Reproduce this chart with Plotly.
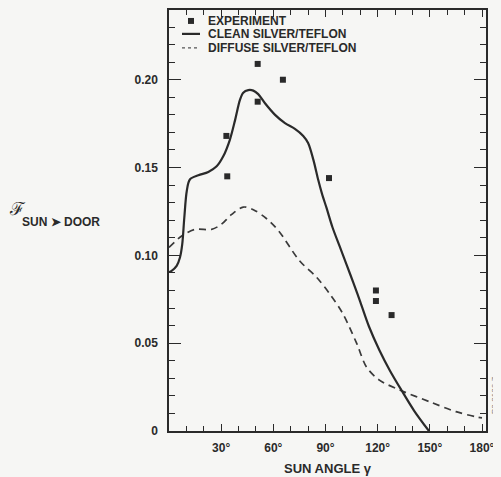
import plotly.graph_objects as go

# Experimental data
angle_exp = [33, 33.5, 51, 51, 65.5, 92, 119, 119, 128]
f_exp = [0.168, 0.145, 0.209, 0.1875, 0.200, 0.144, 0.080, 0.074, 0.066]

# Clean silver/teflon (solid)
angle_clean = [0, 1.5, 4.4, 6.3, 7.6, 8.8, 10.2, 12, 16.9, 22.6, 27.4, 31.2, 35, 38, 40.8, 42.7, 45.6, 48.5,
               51.3, 55.2, 61, 66.7, 72.4, 77.2, 80, 83, 85.8, 88, 90.6, 94, 98, 102, 106, 110, 115, 121,
               127, 133.7, 141, 149.5]
f_clean = [0.0905, 0.0912, 0.094, 0.0988, 0.1063, 0.1214, 0.1365, 0.1432, 0.1456, 0.1475, 0.1507, 0.1564,
           0.1658, 0.177, 0.1885, 0.1926, 0.1941, 0.1938, 0.1918, 0.1866, 0.180, 0.1753, 0.172, 0.168, 0.164,
           0.1545, 0.143, 0.135, 0.127, 0.116, 0.1055, 0.095, 0.0845, 0.0735, 0.0595, 0.046,
           0.0345, 0.0232, 0.0115, 0.0]

# Diffuse silver/teflon (dashed)
angle_diff = [0, 7.3, 15, 24.5, 30, 36, 42.7, 48.5, 56, 63, 75, 85, 92.5, 100, 108, 113.6, 121, 133, 150,
              165, 177, 180]
f_diff = [0.1045, 0.111, 0.1148, 0.1148, 0.1176, 0.1233, 0.1275, 0.126, 0.121, 0.114, 0.097, 0.0874, 0.078,
          0.0667, 0.0497, 0.0364, 0.029, 0.0232, 0.0166, 0.011, 0.008, 0.0075]

x_tickvals = [30, 60, 90, 120, 150, 180]
x_ticktext = ["30°", "60°", "90°", "120°", "150°", "180°"]
y_tickvals = [0, 0.05, 0.10, 0.15, 0.20]
y_ticktext = ["0", "0.05", "0.10", "0.15", "0.20"]

legend_labels = ["EXPERIMENT", "CLEAN SILVER/TEFLON", "DIFFUSE SILVER/TEFLON"]

INK = "#2a2a2a"
BG = "#f6f6f4"
FONT = "Liberation Sans"

fig = go.Figure()
fig.add_trace(go.Scatter(x=angle_diff, y=f_diff, mode="lines",
                         line=dict(color="#3a3a3a", width=1.7, dash="7px,5px", shape="spline", smoothing=0.9),
                         showlegend=False))
fig.add_trace(go.Scatter(x=angle_clean, y=f_clean, mode="lines",
                         line=dict(color=INK, width=2.2, shape="spline", smoothing=0.9),
                         showlegend=False))
fig.add_trace(go.Scatter(x=angle_exp, y=f_exp, mode="markers",
                         marker=dict(symbol="square", size=6, color=INK),
                         showlegend=False))

axis_common = dict(showline=True, linecolor=INK, linewidth=1.5, mirror="ticks", ticks="inside",
                   tickcolor=INK, tickwidth=1.3, showgrid=False, zeroline=False,
                   tickfont=dict(family=FONT, size=12, color=INK, weight="bold"))

fig.update_xaxes(range=[0, 182.3], tickmode="array", tickvals=x_tickvals, ticktext=x_ticktext,
                 ticklen=7, minor=dict(dtick=10, tick0=0, ticks="inside", ticklen=5, tickcolor=INK, tickwidth=1.2),
                 title=dict(text="SUN ANGLE γ", font=dict(family=FONT, size=13, color=INK, weight="bold"),
                            standoff=10),
                 ticklabelstandoff=5, **axis_common)
fig.update_yaxes(range=[0, 0.2397], tickmode="array", tickvals=y_tickvals, ticktext=y_ticktext,
                 ticklen=12, minor=dict(dtick=0.01, tick0=0, ticks="inside", ticklen=6, tickcolor=INK, tickwidth=1.2),
                 ticklabelstandoff=7, **axis_common)

# Page offset (browser body margin of 8px)
OFF = 8
# Plot area in page pixels
L, T, R, B = 169, 8, 486, 431
W, H = R - L, B - T
def px(x):
    return (x - L) / W
def py(y):
    return (B - y) / H

legend_y = [19, 32, 46]
for lab, yy in zip(legend_labels, legend_y):
    fig.add_annotation(x=px(206), y=py(yy), xref="paper", yref="paper", text=lab, showarrow=False,
                       xanchor="left", yanchor="middle",
                       font=dict(family=FONT, size=12, color=INK, weight="bold"))
fig.add_shape(type="rect", xref="paper", yref="paper", x0=px(188), x1=px(194), y0=py(22), y1=py(16),
              fillcolor=INK, line=dict(width=0))
fig.add_shape(type="line", xref="paper", yref="paper", x0=px(182), x1=px(200), y0=py(32), y1=py(32),
              line=dict(color=INK, width=2.2))
fig.add_shape(type="line", xref="paper", yref="paper", x0=px(182), x1=px(200), y0=py(46), y1=py(46),
              line=dict(color="#555", width=1.3, dash="3px,3px"))

# Y-axis label
fig.add_annotation(x=px(7), y=py(207), xref="paper", yref="paper", text="ℱ", showarrow=False,
                   xanchor="left", yanchor="middle", font=dict(family="DejaVu Serif", size=18, color=INK))
fig.add_annotation(x=px(20), y=py(221), xref="paper", yref="paper", text="SUN ➤ DOOR", showarrow=False,
                   xanchor="left", yanchor="middle", font=dict(family=FONT, size=12, color=INK, weight="bold"))

# Figure id
fig.add_annotation(x=px(494), y=py(395), xref="paper", yref="paper", text="P3-2136-7", showarrow=False,
                   textangle=-90, xanchor="center", yanchor="middle",
                   font=dict(family=FONT, size=8, color="#777"))

FW, FH = 501 - OFF, 477 - OFF
fig.update_layout(width=FW, height=FH,
                  margin=dict(l=L - OFF, r=FW - (R - OFF), t=T - OFF, b=FH - (B - OFF), pad=0),
                  paper_bgcolor=BG, plot_bgcolor=BG, showlegend=False)

fig.write_html("out.html", post_script="document.body.style.background='%s';" % BG)
